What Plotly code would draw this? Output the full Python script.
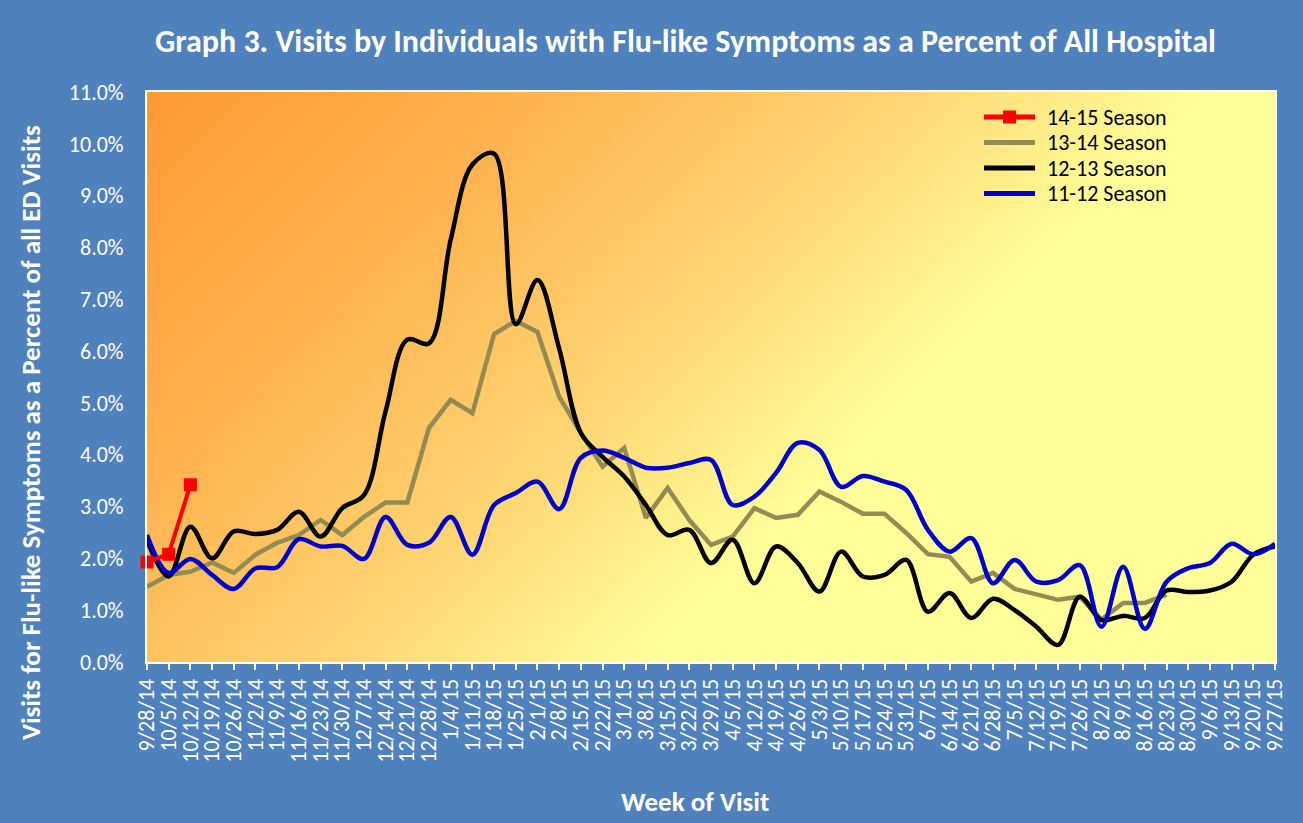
import numpy as np
import plotly.graph_objects as go

weeks = ["9/28/14", "10/5/14", "10/12/14", "10/19/14", "10/26/14", "11/2/14", "11/9/14", "11/16/14",
         "11/23/14", "11/30/14", "12/7/14", "12/14/14", "12/21/14", "12/28/14", "1/4/15", "1/11/15",
         "1/18/15", "1/25/15", "2/1/15", "2/8/15", "2/15/15", "2/22/15", "3/1/15", "3/8/15", "3/15/15",
         "3/22/15", "3/29/15", "4/5/15", "4/12/15", "4/19/15", "4/26/15", "5/3/15", "5/10/15", "5/17/15",
         "5/24/15", "5/31/15", "6/7/15", "6/14/15", "6/21/15", "6/28/15", "7/5/15", "7/12/15", "7/19/15",
         "7/26/15", "8/2/15", "8/9/15", "8/16/15", "8/23/15", "8/30/15", "9/6/15", "9/13/15", "9/20/15",
         "9/27/15"]

# percent of all ED visits
season_14_15 = [1.93, 2.08, 3.42]

season_13_14 = [1.45, 1.68, 1.74, 1.92, 1.72, 2.07, 2.30, 2.45, 2.74, 2.45, 2.80, 3.08, 3.08, 4.52,
                5.06, 4.80, 6.33, 6.58, 6.37, 5.12, 4.42, 3.77, 4.13, 2.78, 3.36, 2.74, 2.26, 2.42,
                2.97, 2.78, 2.84, 3.29, 3.09, 2.86, 2.86, 2.49, 2.08, 2.03, 1.55, 1.72, 1.41, 1.31,
                1.20, 1.26, 0.82, 1.14, 1.14, 1.30]

season_12_13 = [2.35, 1.65, 2.61, 2.00, 2.52, 2.47, 2.55, 2.90, 2.42, 2.97, 3.22, 4.84, 6.22, 6.15,
                8.15, 9.60, 9.81, 6.52, 7.37, 6.05, 4.42, 3.96, 3.58, 3.03, 2.45, 2.55, 1.91, 2.36,
                1.52, 2.23, 1.91, 1.36, 2.13, 1.65, 1.68, 1.97, 0.97, 1.33, 0.85, 1.22, 1.00, 0.68,
                0.33, 1.26, 0.81, 0.89, 0.85, 1.38, 1.35, 1.38, 1.55, 2.07, 2.23]

season_11_12 = [2.45, 1.72, 1.99, 1.68, 1.41, 1.81, 1.83, 2.37, 2.23, 2.24, 1.99, 2.80, 2.26, 2.30,
                2.80, 2.07, 3.03, 3.26, 3.48, 2.95, 3.94, 4.08, 3.94, 3.75, 3.75, 3.84, 3.90, 3.03,
                3.19, 3.65, 4.23, 4.09, 3.38, 3.59, 3.48, 3.32, 2.55, 2.13, 2.39, 1.52, 1.97, 1.55,
                1.58, 1.87, 0.68, 1.84, 0.64, 1.55, 1.81, 1.91, 2.28, 2.08, 2.28]

y_ticks = list(range(0, 12))

legend_labels = ["14-15 Season", "13-14 Season", "12-13 Season", "11-12 Season"]
legend_colors = ["#FF0000", "#948A54", "#000000", "#0000CC"]

BG = "#4F81BD"
FONT = "Carlito, Lato, sans-serif"
xi = list(range(len(weeks)))

# plot area in pixels, used to place the hand-made legend and titles
L, T, W, H = 147, 92, 1128.0, 570.0
def px(x):
    return (x - L) / W
def py(y):
    return (T + H - y) / H

fig = go.Figure()

# diagonal orange -> yellow fill of the plot area (pixel-based 45 degree gradient)
gx = np.linspace(0, 52, 27)
gy = np.linspace(0, 11, 23)
gz = [[(x / 52 * W + (11 - y) / 11 * H) / (W + H) for x in gx] for y in gy]
fig.add_trace(go.Heatmap(
    x=gx, y=gy, z=gz, zsmooth="best", showscale=False, hoverinfo="skip", zmin=0, zmax=1,
    colorscale=[[0, "#FF9933"], [0.25, "#FFB552"], [0.45, "#FFD673"], [0.63, "#FFFF99"], [1, "#FFFF99"]],
))

fig.add_trace(go.Scatter(x=xi[:len(season_13_14)], y=season_13_14, name="13-14 Season", mode="lines",
                         line=dict(color="#948A54", width=4.5)))
fig.add_trace(go.Scatter(x=xi, y=season_12_13, name="12-13 Season", mode="lines",
                         line=dict(color="#000000", width=4.5, shape="spline", smoothing=1)))
fig.add_trace(go.Scatter(x=xi, y=season_11_12, name="11-12 Season", mode="lines",
                         line=dict(color="#0000CC", width=4.5, shape="spline", smoothing=1)))
fig.add_trace(go.Scatter(x=xi[:len(season_14_15)], y=season_14_15, name="14-15 Season", mode="lines+markers",
                         line=dict(color="#FF0000", width=4), marker=dict(symbol="square", size=13, color="#FF0000"),
                         cliponaxis=False))

# legend drawn by hand so the row spacing matches
for i, (lab, col) in enumerate(zip(legend_labels, legend_colors)):
    yy = 117 + 25.5 * i
    fig.add_shape(type="line", xref="paper", yref="paper", x0=px(984), x1=px(1035), y0=py(yy), y1=py(yy),
                  line=dict(color=col, width=5))
    fig.add_annotation(x=px(1045), y=py(yy), xref="paper", yref="paper", text=lab, showarrow=False,
                       xanchor="left", yanchor="middle", font=dict(size=22, color="black"))
fig.add_shape(type="rect", xref="paper", yref="paper", x0=px(1003), x1=px(1016), y0=py(123.5), y1=py(110.5),
              fillcolor="#FF0000", line=dict(width=0))

# axis titles
fig.add_annotation(x=px(30), y=py(433), xref="paper", yref="paper", showarrow=False, textangle=-90,
                   text="<b>Visits for Flu-like Symptoms as a Percent of all ED Visits</b>",
                   font=dict(size=27, color="white"), xanchor="center", yanchor="middle")
fig.add_annotation(x=px(695), y=py(802), xref="paper", yref="paper", showarrow=False,
                   text="<b>Week of Visit</b>", font=dict(size=27, color="white"),
                   xanchor="center", yanchor="middle")

fig.update_layout(
    width=1303, height=823,
    paper_bgcolor=BG, plot_bgcolor="#FFFF99",
    margin=dict(l=147, r=28, t=92, b=161),
    font=dict(family=FONT, color="white"),
    title=dict(text="<b>Graph 3. Visits by Individuals with Flu-like Symptoms as a Percent of All Hospital</b>",
               x=0.526, xanchor="center", y=0.95, yanchor="middle", font=dict(size=32, color="white")),
    showlegend=False,
    xaxis=dict(range=[0, 52], tickvals=xi, ticktext=weeks, tickangle=-90, tickfont=dict(size=22, color="white"),
               showgrid=False, zeroline=False, showline=True, linecolor="white", linewidth=2, mirror=True,
               ticks="outside", ticklen=6, tickcolor="white", tickwidth=1.5),
    yaxis=dict(range=[0, 11], tickvals=y_ticks, ticktext=[f"{v:.1f}%" for v in y_ticks],
               tickfont=dict(size=22, color="white"), showgrid=False, zeroline=False,
               showline=True, linecolor="white", linewidth=2, mirror=True, ticks="", ticklabelstandoff=17),
)

fig.write_html("out.html", config={"displayModeBar": False},
               post_script="document.body.style.margin='0';document.body.style.background='#4F81BD';")
